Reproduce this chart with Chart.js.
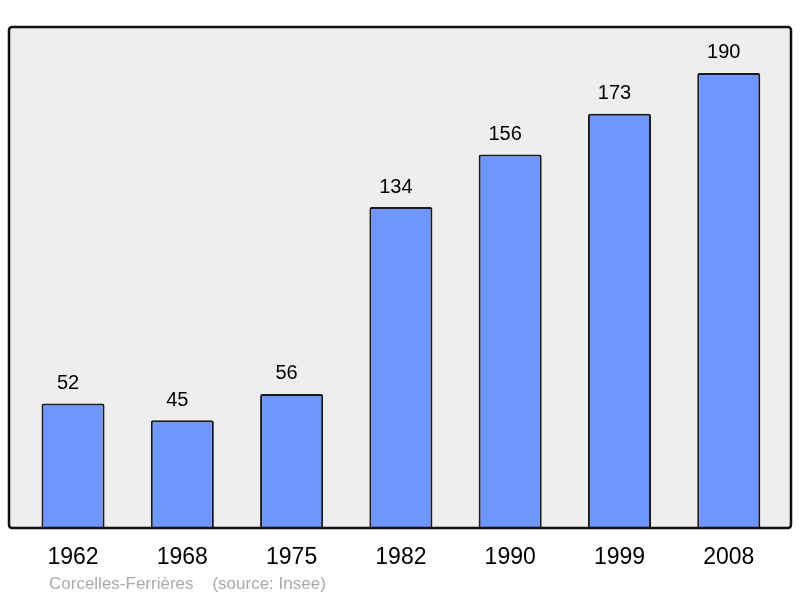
<!DOCTYPE html>
<html>
<head>
<meta charset="utf-8">
<script src="https://cdn.jsdelivr.net/npm/chart.js@4/dist/chart.umd.min.js"></script>
<style>
    html, body { margin: 0; padding: 0; background: #ffffff; }
    #wrap { width: 800px; height: 598px; }
</style>
</head>
<body>
<div id="wrap"><canvas id="population"></canvas></div>
<script>
const years = ['1962', '1968', '1975', '1982', '1990', '1999', '2008'];
const population = [52, 45, 56, 134, 156, 173, 190];
const sourceText = 'Corcelles-Ferrières    (source: Insee)';

// frame, value labels, year labels and source line
const framePlugin = {
    id: 'frame',
    beforeDatasetsDraw(chart) {
        const { ctx, chartArea } = chart;
        ctx.save();
        ctx.fillStyle = '#eeeeee';
        ctx.beginPath();
        ctx.roundRect(9, chartArea.top, 782, chartArea.bottom - chartArea.top, 3);
        ctx.fill();
        ctx.restore();
    },
    afterDatasetsDraw(chart) {
        const { ctx, chartArea } = chart;
        const xScale = chart.scales.x;
        const meta = chart.getDatasetMeta(0);
        ctx.save();
        ctx.strokeStyle = '#111111';
        ctx.lineWidth = 2.5;
        ctx.beginPath();
        ctx.roundRect(9, chartArea.top, 782, chartArea.bottom - chartArea.top, 3);
        ctx.stroke();

        ctx.fillStyle = '#000000';
        ctx.textAlign = 'center';
        ctx.textBaseline = 'middle';
        ctx.font = '20px "Liberation Sans", Arial, sans-serif';
        meta.data.forEach((bar, i) => {
            ctx.fillText(population[i], bar.x - 5, bar.y - 20);
        });

        ctx.font = '23px "Liberation Sans", Arial, sans-serif';
        years.forEach((y, i) => {
            ctx.fillText(y, xScale.getPixelForValue(i), chartArea.bottom + 30);
        });

        ctx.fillStyle = '#aaaaaa';
        ctx.textAlign = 'left';
        ctx.font = '17px "Liberation Sans", Arial, sans-serif';
        ctx.fillText(sourceText, 49, 584);
        ctx.restore();
    }
};

new Chart(document.getElementById('population'), {
    type: 'bar',
    data: {
        labels: years,
        datasets: [{
            data: population,
            backgroundColor: '#6f96ff',
            borderColor: '#1a1a1a',
            borderWidth: 2,
            borderRadius: 2,
            borderSkipped: 'bottom',
            categoryPercentage: 1,
            barPercentage: 0.577
        }]
    },
    options: {
        responsive: true,
        maintainAspectRatio: false,
        animation: false,
        layout: { padding: { left: 18.4, right: 16.6, top: 27, bottom: 70 } },
        plugins: {
            legend: { display: false },
            tooltip: { enabled: false }
        },
        scales: {
            x: { display: false },
            y: { display: false, min: 0, max: 209.2 }
        }
    },
    plugins: [framePlugin]
});
</script>
</body>
</html>
